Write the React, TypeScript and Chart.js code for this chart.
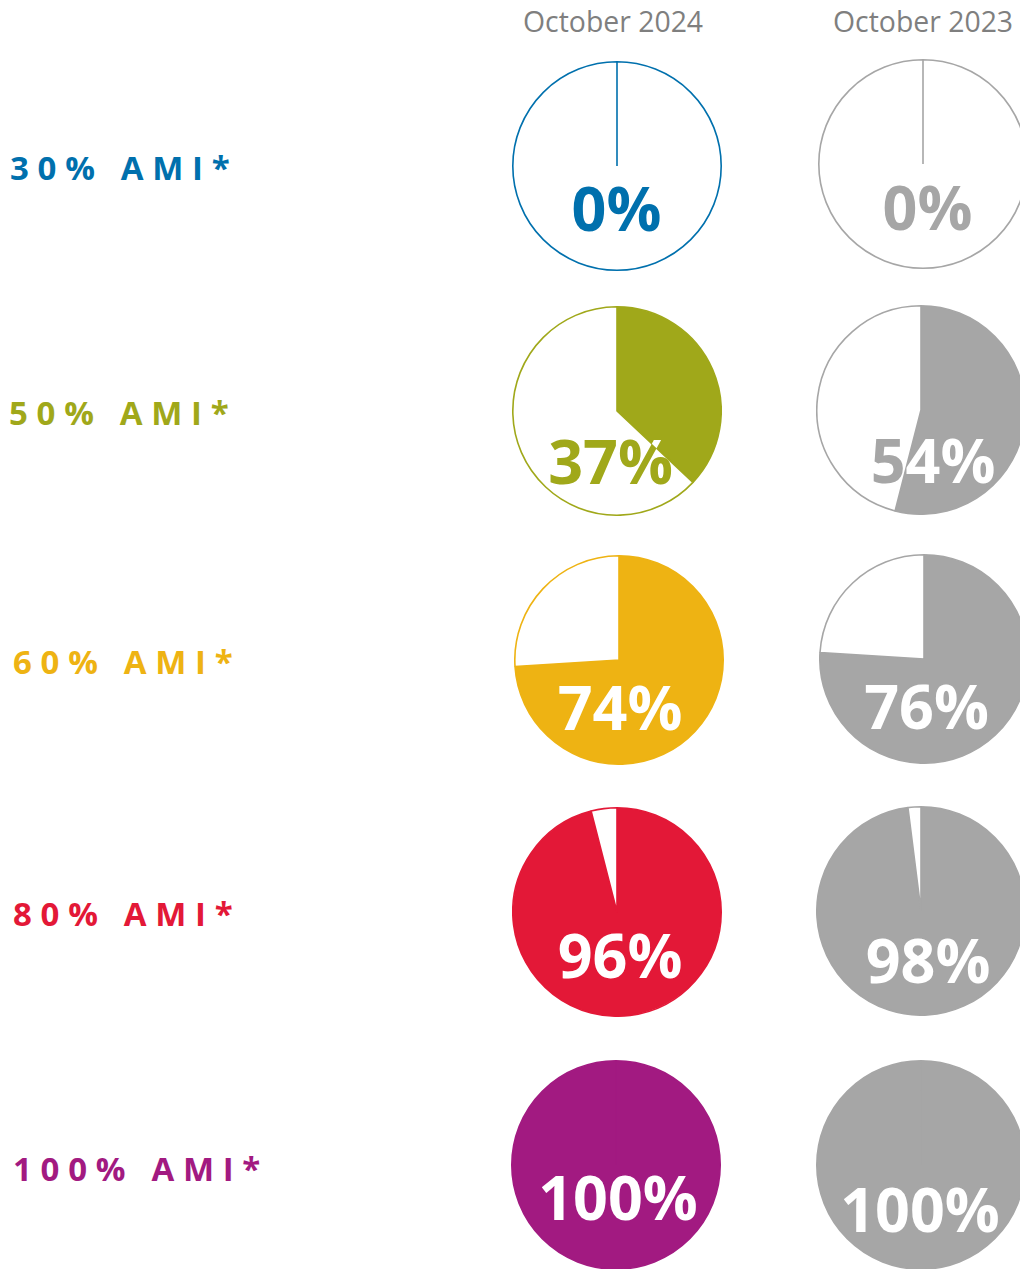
import React, { useEffect, useRef } from "react";
import { Chart, registerables } from "chart.js";

Chart.register(...registerables);

// ---------- data ----------
const categories = ["30% AMI*", "50% AMI*", "60% AMI*", "80% AMI*", "100% AMI*"];
const periods = ["October 2024", "October 2023"];
const values2024 = [0, 37, 74, 96, 100];
const values2023 = [0, 54, 76, 98, 100];
const valueLabels2024 = ["0%", "37%", "74%", "96%", "100%"];
const valueLabels2023 = ["0%", "54%", "76%", "98%", "100%"];

// ---------- styles / layout ----------
const categoryColors = ["#0070AD", "#A0A81A", "#EEB313", "#E31837", "#A21A81"];
const comparisonColor = "#A6A6A6";
const headerColor = "#7F7F7F";
const FONT = "'Open Sans', 'Noto Sans', 'DejaVu Sans', sans-serif";

const PIE_SIZE = 210;
const pieCenterX = [
  [617, 616.5, 619, 616.5, 615.5],
  [922.5, 921, 923.5, 921, 921],
];
const pieCenterY = [
  [165.5, 411, 659.5, 912, 1165],
  [164, 409.5, 659, 911, 1165],
];
// label anchor (center x, baseline y) relative to pie center
const labelDX = [
  [-0.5, -6.5, 1, 3, 2],
  [4.5, 12, 2.5, 7, -1],
];
const labelDY = [
  [64.5, 73, 69.5, 66, 55],
  [66, 72.5, 70, 72, 67],
];
const PCT_FS = 61;

const rowLabelX = [10, 9, 13, 13, 13];
const rowLabelBaseline = [180, 425, 674, 926, 1181];
const ROW_FS = 33;
const ROW_LS = 8.7;
const headerX = [523, 833];
const HEADER_BASELINE = 32;
const HEADER_FS = 28.4;

type PieProps = {
  value: number;
  label: string;
  color: string;
  cx: number;
  cy: number;
  dx: number;
  dy: number;
};

function PieChart({ value, label, color, cx, cy, dx, dy }: PieProps) {
  const ref = useRef<HTMLCanvasElement>(null);
  useEffect(() => {
    if (!ref.current) return;
    const labelPlugin = {
      id: "pctLabel",
      afterDatasetsDraw(chart: any) {
        const arc = chart.getDatasetMeta(0).data[0];
        const { x, y, startAngle, endAngle, outerRadius } = arc.getProps(
          ["x", "y", "startAngle", "endAngle", "outerRadius"],
          true
        );
        const ctx = chart.ctx as CanvasRenderingContext2D;
        ctx.save();
        ctx.font = `700 ${PCT_FS}px ${FONT}`;
        ctx.textAlign = "center";
        ctx.textBaseline = "alphabetic";
        const tx = x + dx;
        const ty = y + dy;
        ctx.fillStyle = color;
        ctx.fillText(label, tx, ty);
        if (endAngle > startAngle) {
          ctx.beginPath();
          ctx.moveTo(x, y);
          ctx.arc(x, y, outerRadius + 3, startAngle, endAngle);
          ctx.closePath();
          ctx.clip();
          ctx.fillStyle = "#FFFFFF";
          ctx.fillText(label, tx, ty);
        }
        ctx.restore();
      },
    };
    const chart = new Chart(ref.current, {
      type: "pie",
      data: {
        labels: ["share", "rest"],
        datasets: [
          {
            data: [value, 100 - value],
            backgroundColor: [color, "#FFFFFF"],
            borderColor: [color, color],
            borderWidth: 1.6,
          },
        ],
      },
      options: {
        responsive: false,
        maintainAspectRatio: false,
        animation: false,
        events: [],
        layout: { padding: 0 },
        plugins: {
          legend: { display: false },
          tooltip: { enabled: false },
        },
      },
      plugins: [labelPlugin],
    });
    return () => chart.destroy();
  }, [value, label, color, dx, dy]);
  return (
    <canvas
      ref={ref}
      width={PIE_SIZE}
      height={PIE_SIZE}
      style={{
        position: "absolute",
        left: cx - PIE_SIZE / 2,
        top: cy - PIE_SIZE / 2,
        width: PIE_SIZE,
        height: PIE_SIZE,
      }}
    />
  );
}

export default function App() {
  const columns = [
    { values: values2024, labels: valueLabels2024 },
    { values: values2023, labels: valueLabels2023 },
  ];
  return (
    <div
      style={{
        position: "absolute",
        left: 0,
        top: 0,
        width: 1020,
        height: 1269,
        overflow: "hidden",
        background: "#FFFFFF",
        fontFamily: FONT,
      }}
    >
      {periods.map((p, i) => (
        <div
          key={p}
          style={{
            position: "absolute",
            left: headerX[i],
            top: HEADER_BASELINE - 0.888 * HEADER_FS,
            fontSize: HEADER_FS,
            lineHeight: `${HEADER_FS}px`,
            fontWeight: 400,
            color: headerColor,
            whiteSpace: "nowrap",
          }}
        >
          {p}
        </div>
      ))}
      {categories.map((c, i) => (
        <div
          key={c}
          style={{
            position: "absolute",
            left: rowLabelX[i],
            top: rowLabelBaseline[i] - 0.888 * ROW_FS,
            fontSize: ROW_FS,
            lineHeight: `${ROW_FS}px`,
            fontWeight: 700,
            letterSpacing: `${ROW_LS}px`,
            color: categoryColors[i],
            whiteSpace: "nowrap",
          }}
        >
          {c}
        </div>
      ))}
      {columns.map((col, ci) =>
        col.values.map((v, ri) => (
          <PieChart
            key={`${ci}-${ri}`}
            value={v}
            label={col.labels[ri]}
            color={ci === 0 ? categoryColors[ri] : comparisonColor}
            cx={pieCenterX[ci][ri]}
            cy={pieCenterY[ci][ri]}
            dx={labelDX[ci][ri]}
            dy={labelDY[ci][ri]}
          />
        ))
      )}
    </div>
  );
}
